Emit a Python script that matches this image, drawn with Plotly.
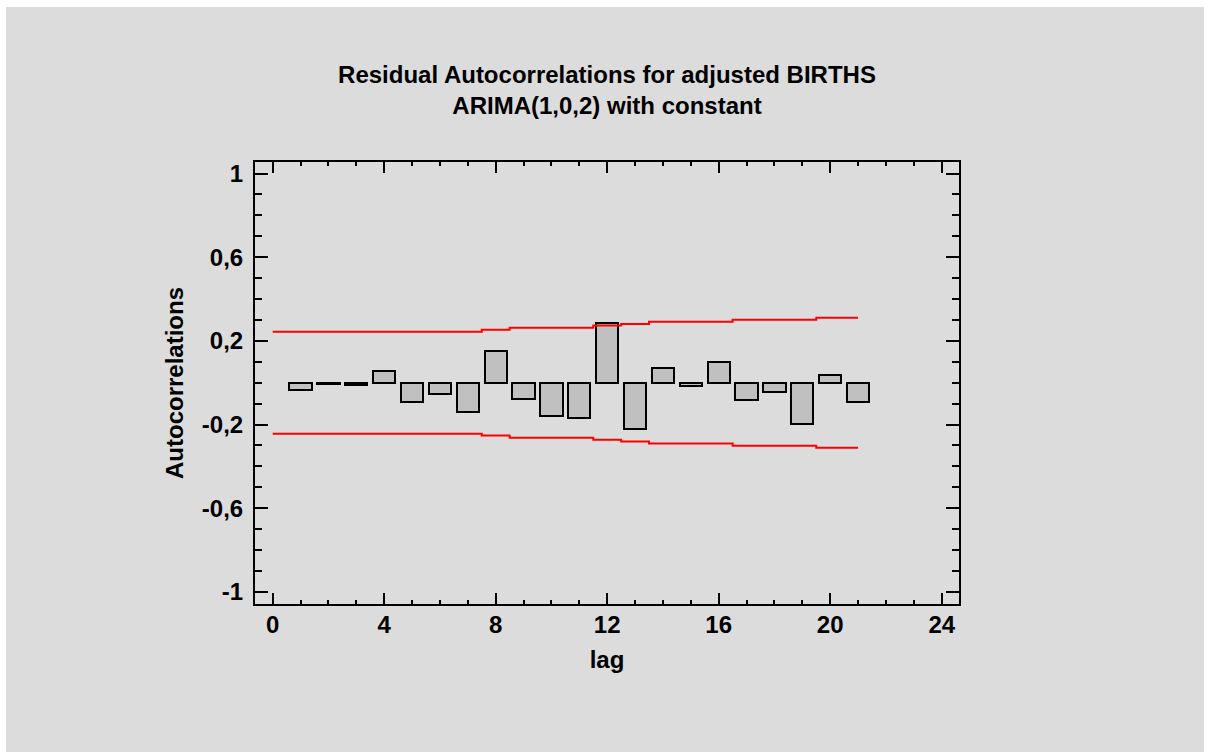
import plotly.graph_objects as go

# Residual autocorrelations by lag
lags = list(range(1, 22))
acf = [-0.037, -0.005, -0.012, 0.056, -0.092, -0.056, -0.141, 0.150,
       -0.076, -0.160, -0.171, 0.284, -0.221, 0.068, -0.018, 0.097,
       -0.084, -0.045, -0.198, 0.037, -0.093]

# 95% probability limits, one value per lag (lag 0..21)
limit_lags = list(range(0, 22))
limits = [0.244, 0.244, 0.244, 0.244, 0.244, 0.244, 0.244, 0.244,
          0.253, 0.263, 0.263, 0.263, 0.273, 0.281, 0.291, 0.291,
          0.291, 0.301, 0.301, 0.301, 0.311, 0.311]

x_ticks = [0, 4, 8, 12, 16, 20, 24]
y_ticks = [-1, -0.6, -0.2, 0.2, 0.6, 1]
y_ticktext = ["-1", "-0,6", "-0,2", "0,2", "0,6", "1"]

FONT = "Liberation Sans, Arial, sans-serif"
W, H = 1208, 752
L, R, T, B = 255, 249, 162, 148
pw, ph = W - L - R, H - T - B

fig = go.Figure()

fig.add_trace(go.Bar(
    x=lags, y=acf, width=0.8,
    marker=dict(color="#c0c0c0", line=dict(color="black", width=2)),
    showlegend=False, hoverinfo="x+y",
))

fig.add_trace(go.Scatter(
    x=limit_lags, y=limits, mode="lines", line_shape="hvh",
    line=dict(color="#ff0000", width=2), showlegend=False,
))
fig.add_trace(go.Scatter(
    x=limit_lags, y=[-v for v in limits], mode="lines", line_shape="hvh",
    line=dict(color="#ff0000", width=2), showlegend=False,
))

# gray panel behind the whole chart, inset from the page edge
def px_x(p):
    return (p - L) / pw

def px_y(p):
    return (H - B - p) / ph

fig.add_shape(type="rect", xref="paper", yref="paper", layer="below",
              x0=px_x(6), x1=px_x(1204), y0=px_y(752), y1=px_y(7),
              fillcolor="#dcdcdc", line=dict(width=0))

axis_common = dict(
    showline=True, linecolor="black", linewidth=2, mirror="ticks",
    ticks="inside", tickcolor="black", tickwidth=2,
    showgrid=False, zeroline=False,
    tickfont=dict(family=FONT, size=24, color="black", weight="bold"),
)

fig.update_xaxes(
    range=[-0.635, 24.62], tickmode="array", tickvals=x_ticks,
    ticktext=[str(v) for v in x_ticks], ticklen=11, ticklabelstandoff=-2,
    minor=dict(dtick=1, tick0=0, ticks="inside", ticklen=4, tickwidth=2,
               tickcolor="black", showgrid=False),
    title=dict(text="lag", standoff=14,
               font=dict(family=FONT, size=24, color="black", weight="bold")),
    **axis_common,
)
fig.update_yaxes(
    range=[-1.058, 1.055], tickmode="array", tickvals=y_ticks,
    ticktext=y_ticktext, ticklen=13, ticklabelstandoff=5,
    minor=dict(dtick=0.1, tick0=0, ticks="inside", ticklen=7, tickwidth=2,
               tickcolor="black", showgrid=False),
    title=dict(text="Autocorrelations", standoff=11,
               font=dict(family=FONT, size=24, color="black", weight="bold")),
    **axis_common,
)

fig.update_layout(
    width=W, height=H,
    margin=dict(l=L, r=R, t=T, b=B, autoexpand=False),
    paper_bgcolor="white", plot_bgcolor="white",
    bargap=0,
    title=dict(
        text="Residual Autocorrelations for adjusted BIRTHS<br>ARIMA(1,0,2) with constant",
        x=0.5, xref="paper", xanchor="center",
        y=1 - 83 / H, yref="container", yanchor="top",
        font=dict(family=FONT, size=24, color="black", weight="bold"),
    ),
)

fig.write_html("out.html")
